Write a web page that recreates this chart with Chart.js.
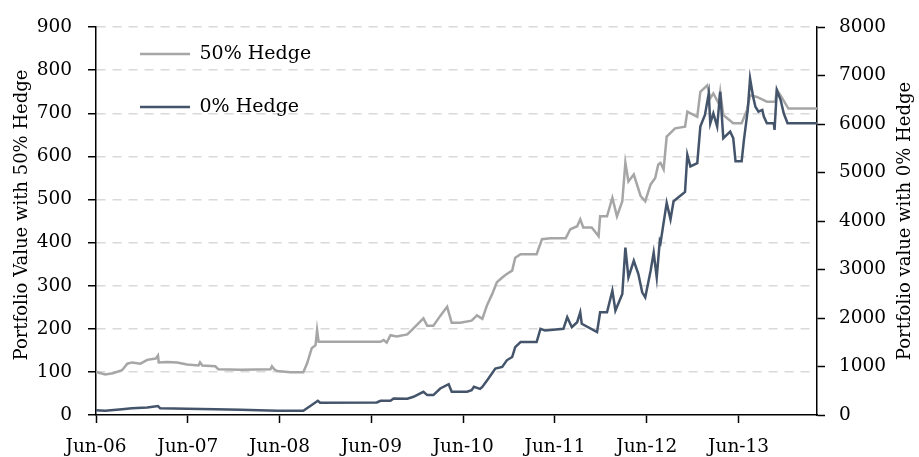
<!DOCTYPE html>
<html>
<head>
<meta charset="utf-8">
<script src="https://cdn.jsdelivr.net/npm/chart.js@4/dist/chart.umd.min.js"></script>
<style>
  html, body { margin: 0; padding: 0; background: #ffffff; }
  #wrap { width: 919px; height: 457px; }
</style>
</head>
<body>
<div id="wrap"><canvas id="c" width="919" height="457"></canvas></div>
<script>
// x values are months elapsed since Jun-06
const tickMonths = [0, 12, 24, 36, 48, 60, 72, 84];
const tickLabels = ["Jun-06", "Jun-07", "Jun-08", "Jun-09", "Jun-10", "Jun-11", "Jun-12", "Jun-13"];
const xEnd = 94.25;

const months50 = [0, 1.2, 2.2, 3.4, 4.1, 4.7, 5.8, 6.7, 7.8, 8.1, 8.2, 9.3, 10.6, 11.9, 13.4, 13.6, 13.9, 15.6, 16.0, 18.9, 22.8, 23.0, 23.3, 23.7, 25.4, 27.1, 27.6, 28.2, 28.7, 28.9, 29.1, 37.2, 37.6, 38.0, 38.5, 39.3, 40.7, 41.5, 42.8, 43.3, 44.1, 45.0, 45.9, 46.5, 47.6, 49.1, 49.8, 50.5, 51.1, 51.8, 52.4, 53.1, 53.7, 54.4, 54.8, 55.5, 57.6, 58.3, 59.4, 61.4, 62.0, 62.9, 63.3, 63.7, 64.8, 65.7, 65.9, 66.8, 67.5, 68.1, 68.8, 69.2, 69.6, 70.3, 71.2, 71.8, 72.5, 73.1, 73.5, 73.8, 74.2, 74.6, 75.7, 77.0, 77.3, 78.6, 79.0, 79.9, 80.3, 80.7, 81.4, 81.6, 82.0, 83.3, 84.4, 85.1, 85.5, 86.4, 87.7, 88.8, 89.0, 89.7, 90.5, 94.25];
const values50 = [100, 94, 97, 104, 119, 122, 119, 128, 131, 138, 122, 123, 122, 117, 115, 122, 115, 113, 106, 105, 106, 113, 106, 102, 99, 99, 120, 155, 162, 197, 170, 170, 174, 168, 185, 182, 187, 201, 224, 207, 207, 230, 251, 214, 214, 219, 231, 223, 254, 281, 308, 319, 327, 335, 365, 373, 373, 408, 410, 410, 431, 438, 454, 435, 435, 415, 461, 461, 504, 461, 496, 585, 542, 558, 508, 496, 535, 550, 581, 585, 570, 646, 665, 669, 704, 692, 750, 765, 735, 746, 723, 750, 696, 677, 677, 708, 742, 738, 727, 727, 755, 735, 711, 711];

const months0 = [0, 1.2, 3.4, 4.7, 6.7, 8.1, 8.4, 11.9, 15.6, 18.9, 23.7, 27.1, 28.2, 29.0, 29.3, 36.7, 37.2, 38.5, 38.9, 40.7, 41.5, 42.8, 43.3, 44.1, 45.0, 46.1, 46.5, 48.5, 49.1, 49.4, 50.2, 50.5, 51.3, 52.2, 53.1, 53.7, 54.4, 54.8, 55.5, 57.6, 58.1, 58.7, 61.1, 61.6, 62.2, 62.9, 63.3, 63.5, 65.5, 65.9, 66.8, 67.5, 67.9, 68.8, 69.2, 69.6, 70.3, 70.9, 71.4, 71.8, 72.5, 72.9, 73.3, 73.7, 73.8, 74.6, 75.1, 75.5, 77.0, 77.3, 77.7, 78.6, 79.0, 79.6, 80.1, 80.3, 80.7, 81.2, 81.6, 82.0, 82.9, 83.3, 83.6, 84.4, 84.7, 85.2, 85.5, 85.9, 86.2, 86.6, 87.1, 87.3, 87.7, 88.6, 88.7, 89.0, 89.5, 89.9, 90.4, 94.25];
const values0 = [100, 88, 117, 137, 157, 185, 137, 130, 117, 109, 89, 89, 205, 294, 253, 260, 294, 294, 342, 335, 376, 479, 410, 410, 547, 636, 479, 479, 513, 581, 540, 580, 752, 958, 991, 1128, 1196, 1401, 1504, 1504, 1778, 1744, 1778, 2016, 1811, 1914, 2119, 1881, 1709, 2119, 2119, 2564, 2154, 2496, 3452, 2837, 3180, 2907, 2530, 2427, 2974, 3350, 2837, 3590, 3555, 4375, 4035, 4410, 4601, 5368, 5128, 5196, 5949, 6189, 6632, 6016, 6222, 5949, 6667, 5709, 5846, 5709, 5231, 5231, 5676, 6291, 6940, 6564, 6359, 6256, 6291, 6154, 6016, 6016, 5881, 6702, 6496, 6222, 6016, 6016];

const seriesNames = ["50% Hedge", "0% Hedge"];
const leftTitle = "Portfolio Value with 50% Hedge";
const rightTitle = "Portfolio value with 0% Hedge";

const FONT = "'Palatino Linotype', 'Book Antiqua', Palatino, 'DejaVu Serif', serif";
const GRAY = "#a6a6a6";
const NAVY = "#44546a";

const toPoints = (xs, ys) => xs.map((x, i) => ({ x: x, y: ys[i] }));

function drawVerticalTitle(ctx, text, x, y) {
  ctx.save();
  ctx.fillStyle = "#000";
  ctx.font = "18px " + FONT;
  ctx.textAlign = "center";
  ctx.textBaseline = "middle";
  ctx.translate(x, y);
  ctx.rotate(-Math.PI / 2);
  ctx.fillText(text, 0, 0);
  ctx.restore();
}

const layoutPlugin = {
  id: "layoutTweaks",
  afterLayout(chart) {
    const lg = chart.legend;
    if (lg) {
      lg.left = 106; lg.top = 10.5;
      lg.right = 816; lg.bottom = 415;
    }
  },
  afterDraw(chart) {
    const ctx = chart.ctx;
    drawVerticalTitle(ctx, leftTitle, 22, 215);
    drawVerticalTitle(ctx, rightTitle, 905, 221);
  }
};

new Chart(document.getElementById("c"), {
  type: "line",
  data: {
    datasets: [
      { label: seriesNames[0], data: toPoints(months50, values50), yAxisID: "y", borderColor: GRAY, backgroundColor: GRAY, borderWidth: 2.5, pointRadius: 0, tension: 0, order: 1 },
      { label: seriesNames[1], data: toPoints(months0, values0), yAxisID: "y2", borderColor: NAVY, backgroundColor: NAVY, borderWidth: 2.5, pointRadius: 0, tension: 0, order: 0 }
    ]
  },
  options: {
    responsive: false,
    animation: false,
    devicePixelRatio: 1,
    layout: { padding: { top: 25, left: 0, right: 0, bottom: 0 } },
    plugins: {
      tooltip: { enabled: false },
      legend: {
        position: "chartArea",
        align: "start",
        labels: {
          font: { family: FONT, size: 19 },
          color: "#000",
          boxWidth: 50,
          boxHeight: 2.5,
          padding: 34,
          sort: (a, b) => a.datasetIndex - b.datasetIndex,
          generateLabels(chart) {
            const items = Chart.defaults.plugins.legend.labels.generateLabels(chart);
            items.forEach(it => { it.fillStyle = it.strokeStyle; it.lineWidth = 0; });
            return items;
          }
        }
      }
    },
    scales: {
      x: {
        type: "linear",
        min: 0,
        max: xEnd,
        afterBuildTicks(scale) { scale.ticks = tickMonths.map(v => ({ value: v })); },
        afterFit(scale) { scale.height = 42; },
        ticks: {
          autoSkip: false,
          maxRotation: 0,
          padding: 13,
          color: "#000",
          font: { family: FONT, size: 18.5 },
          callback: (v) => { const i = tickMonths.indexOf(v); return i >= 0 ? tickLabels[i] : ""; }
        },
        grid: { drawOnChartArea: false, drawTicks: true, tickLength: 8, tickColor: "#000", tickWidth: 1.5 },
        border: { color: "#000", width: 1.5 }
      },
      y: {
        position: "left",
        min: 0,
        max: 900,
        afterFit(scale) { scale.width = 96; },
        ticks: { stepSize: 100, padding: 16, color: "#000", font: { family: FONT, size: 18.5 }, callback: (v) => String(v) },
        grid: {
          color: (ctx) => (ctx.tick && ctx.tick.value === 0 ? "rgba(0,0,0,0)" : "#d9d9d9"),
          lineWidth: 1.5,
          drawTicks: true,
          tickLength: 8,
          tickColor: "#000",
          tickWidth: 1.5,
          tickBorderDash: []
        },
        border: { color: "#000", width: 1.5, dash: [9, 7] }
      },
      y2: {
        position: "right",
        min: 0,
        max: 8000,
        afterFit(scale) { scale.width = 102; },
        ticks: { stepSize: 1000, padding: 14, color: "#000", font: { family: FONT, size: 18.5 }, callback: (v) => String(v) },
        grid: { drawOnChartArea: false, drawTicks: true, tickLength: 8, tickColor: "#000", tickWidth: 1.5, tickBorderDash: [] },
        border: { color: "#000", width: 1.5 }
      }
    }
  },
  plugins: [layoutPlugin]
});
</script>
</body>
</html>
